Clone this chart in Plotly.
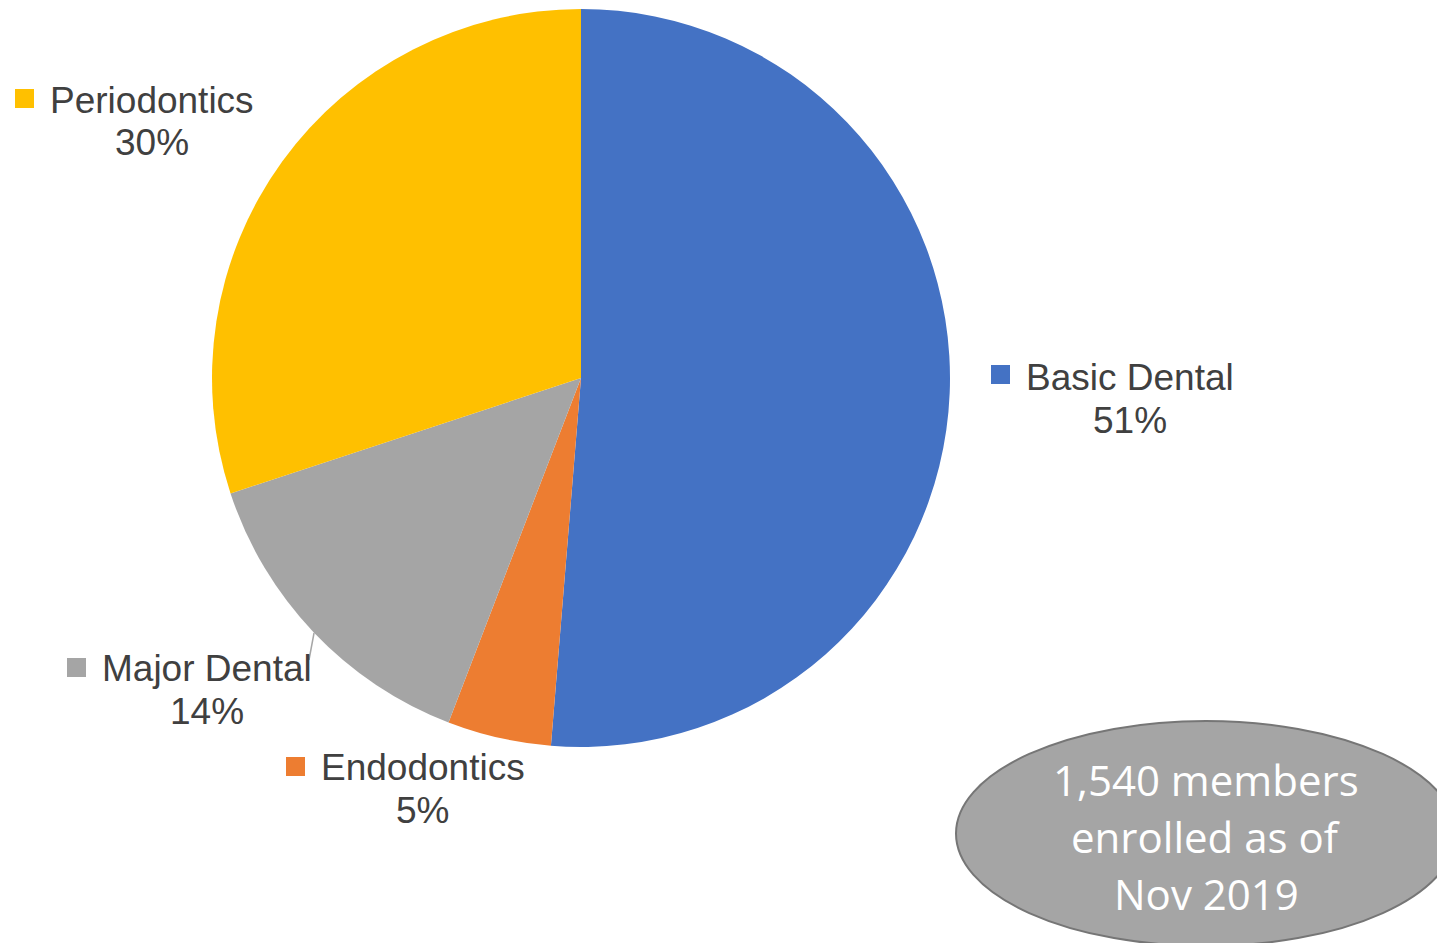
import plotly.graph_objects as go

categories = ["Basic Dental", "Endodontics", "Major Dental", "Periodontics"]
members = [790, 70, 217, 463]
pct_labels = ["51%", "5%", "14%", "30%"]
colors = ["#4472C4", "#ED7D31", "#A5A5A5", "#FFC000"]
note_lines = ["1,540 members", "enrolled as of", "Nov 2019"]

W, H = 1437, 943

def px(x):
    return x / W

def py(y):
    return 1 - y / H

fig = go.Figure()
fig.add_trace(go.Pie(
    labels=categories,
    values=members,
    marker=dict(colors=colors, line=dict(width=0)),
    sort=False,
    direction="clockwise",
    rotation=0,
    textinfo="none",
    hoverinfo="label+percent",
    showlegend=False,
    domain=dict(x=[px(212), px(950)], y=[py(747), py(9)]),
))

# label layout: (text centre x, line1 centre y, square x0, square y0)
label_pos = {
    "Basic Dental": (1130, 377, 991, 365),
    "Endodontics": (423, 767, 286, 757),
    "Major Dental": (207, 668, 67, 658),
    "Periodontics": (152, 100, 15, 89),
}

shapes = []
annotations = []
for cat, pct, col in zip(categories, pct_labels, colors):
    tx, ty, sx, sy = label_pos[cat]
    shapes.append(dict(type="rect", xref="paper", yref="paper",
                       x0=px(sx), x1=px(sx + 19), y0=py(sy + 19), y1=py(sy),
                       fillcolor=col, line=dict(width=0)))
    annotations.append(dict(text=cat, x=px(tx), y=py(ty), xref="paper", yref="paper",
                            showarrow=False, xanchor="center", yanchor="middle",
                            font=dict(family="Arial, Liberation Sans", size=37, color="#404040")))
    annotations.append(dict(text=pct, x=px(tx), y=py(ty + 43), xref="paper", yref="paper",
                            showarrow=False, xanchor="center", yanchor="middle",
                            font=dict(family="Arial, Liberation Sans", size=37, color="#404040")))

# leader line for Major Dental
shapes.append(dict(type="line", xref="paper", yref="paper",
                   x0=px(309), y0=py(660), x1=px(314), y1=py(633),
                   line=dict(color="#A6A6A6", width=1.5)))

# ellipse note
shapes.append(dict(type="circle", xref="paper", yref="paper",
                   x0=px(956), x1=px(1456), y0=py(946), y1=py(721),
                   fillcolor="#A5A5A5", line=dict(color="#767676", width=2)))
for i, line in enumerate(note_lines):
    annotations.append(dict(text=line, x=px(1206), y=py(779 + 57 * i), xref="paper", yref="paper",
                            showarrow=False, xanchor="center", yanchor="middle",
                            font=dict(family="Open Sans", size=42, color="#FFFFFF")))

fig.update_layout(
    width=W, height=H,
    margin=dict(l=0, r=0, t=0, b=0),
    paper_bgcolor="white",
    plot_bgcolor="white",
    shapes=shapes,
    annotations=annotations,
)

fig.write_html(
    "out.html",
    config={"displayModeBar": False},
    post_script="document.body.style.margin='0';document.body.style.overflow='hidden';",
)
